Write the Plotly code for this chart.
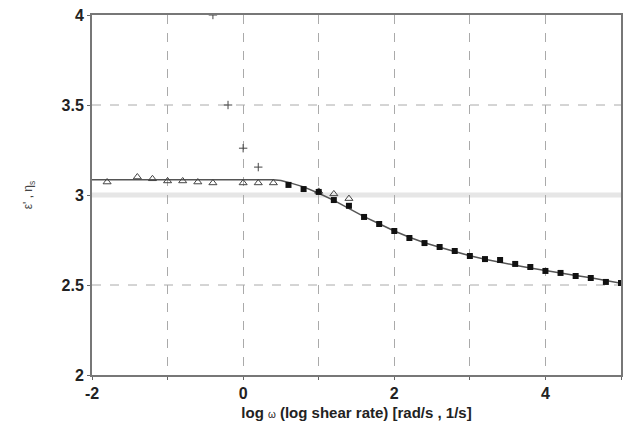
import plotly.graph_objects as go

# open triangles (low frequency branch)
tri_x = [-1.8, -1.4, -1.2, -1.0, -0.8, -0.6, -0.4, 0.0, 0.2, 0.4, 1.0, 1.2, 1.4]
tri_y = [3.072, 3.10, 3.09, 3.078, 3.078, 3.072, 3.067, 3.067, 3.067, 3.067, 3.02, 3.006, 2.98]

# filled squares
sq_x = [0.6, 0.8, 1.0, 1.2, 1.4, 1.6, 1.8, 2.0, 2.2, 2.4, 2.6, 2.8, 3.0, 3.2, 3.4,
        3.6, 3.8, 4.0, 4.2, 4.4, 4.6, 4.8, 5.0]
sq_y = [3.056, 3.033, 3.017, 2.972, 2.94, 2.878, 2.839, 2.80, 2.761, 2.733, 2.711,
        2.689, 2.661, 2.644, 2.639, 2.617, 2.60, 2.578, 2.567, 2.55, 2.539, 2.517, 2.511]

# small cross markers (diverging points)
cr_x = [-0.4, -0.2, 0.0, 0.2]
cr_y = [4.0, 3.5, 3.26, 3.155]

# fitted curve
fit_x = [-2.0, 0.0, 0.4, 0.5, 0.6, 0.8, 1.0, 1.2, 1.4, 1.6, 1.8, 2.0, 2.2, 2.4, 2.6,
         2.8, 3.0, 3.2, 3.4, 3.6, 3.8, 4.0, 4.2, 4.4, 4.6, 4.8, 5.0]
fit_y = [3.085, 3.085, 3.085, 3.08, 3.07, 3.045, 3.01, 2.97, 2.925, 2.88, 2.84, 2.80,
         2.765, 2.735, 2.71, 2.685, 2.662, 2.643, 2.625, 2.61, 2.595, 2.58, 2.567,
         2.553, 2.54, 2.525, 2.51]

x_ticks = [-2, 0, 2, 4]
x_minor = [-1, 1, 3, 5]
y_ticks = [2, 2.5, 3, 3.5, 4]
y_dashed = [2.5, 3.5]
y_band = 3

fig = go.Figure()
fig.add_trace(go.Scatter(x=fit_x, y=fit_y, mode="lines",
                         line=dict(color="#555555", width=1.5), showlegend=False))
fig.add_trace(go.Scatter(x=tri_x, y=tri_y, mode="markers",
                         marker=dict(symbol="triangle-up-open", size=7, color="#444444",
                                     line=dict(width=1, color="#444444")),
                         showlegend=False))
fig.add_trace(go.Scatter(x=sq_x, y=sq_y, mode="markers",
                         marker=dict(symbol="square", size=6, color="#111111"),
                         showlegend=False))
fig.add_trace(go.Scatter(x=cr_x, y=cr_y, mode="markers",
                         marker=dict(symbol="cross-thin", size=6,
                                     line=dict(width=1, color="#444444")),
                         showlegend=False))

fig.add_shape(type="line", xref="x", yref="y", x0=-2, x1=5, y0=y_band, y1=y_band,
              line=dict(color="#e6e6e6", width=5), layer="below")
for yv in y_dashed:
    fig.add_shape(type="line", xref="x", yref="y", x0=-2, x1=5, y0=yv, y1=yv,
                  line=dict(color="#aaaaaa", width=1, dash="dash"), layer="below")

fig.update_layout(
    width=626, height=432,
    margin=dict(l=92, r=3, t=15, b=57),
    paper_bgcolor="white", plot_bgcolor="white",
    font=dict(family="Liberation Sans, Arial, sans-serif", color="#222222"),
)
fig.update_xaxes(
    range=[-2, 5], tickvals=x_ticks, ticktext=[str(v) for v in x_ticks],
    tickfont=dict(size=16, weight=700), ticks="outside", ticklen=3,
    tickcolor="#666666",
    showgrid=True, gridcolor="#aaaaaa", griddash="dash", gridwidth=1,
    minor=dict(tickvals=x_minor, showgrid=True, gridcolor="#aaaaaa",
               griddash="dash", ticks="outside", ticklen=3, tickcolor="#666666"),
    showline=True, linecolor="#777777", linewidth=2, mirror=True,
    zeroline=False,
    title=dict(text="<b>log </b><span style='font-size:10px'>ω</span><b> (log shear rate) [rad/s , 1/s]</b>",
               font=dict(size=15), standoff=6),
)
fig.update_yaxes(
    range=[2, 4], tickvals=y_ticks, ticktext=["2", "2.5", "3", "3.5", "4"],
    tickfont=dict(size=16, weight=700), ticks="outside", ticklen=3,
    tickcolor="#666666",
    showgrid=False,
    showline=True, linecolor="#777777", linewidth=2, mirror=True,
    zeroline=False,
    title=dict(text="ε' , η<sub>s</sub>", font=dict(size=12, color="#444444"), standoff=26),
)

fig.write_html("out.html")
